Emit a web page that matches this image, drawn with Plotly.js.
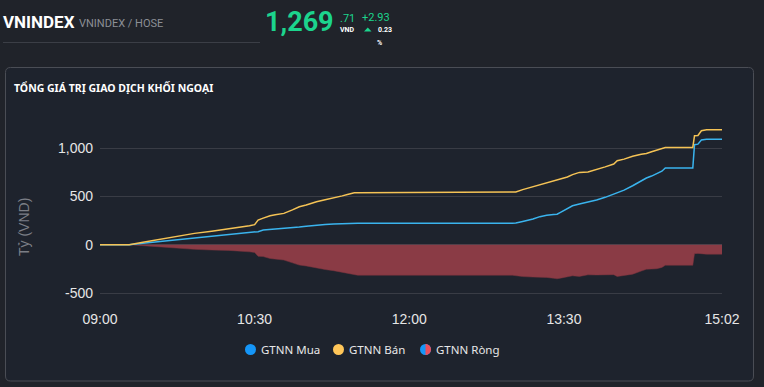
<!DOCTYPE html>
<html>
<head>
<meta charset="utf-8">
<script src="https://cdn.plot.ly/plotly-3.0.1.min.js"></script>
<style>
  html, body { margin: 0; padding: 0; background: #20232a; overflow: hidden; }
  #chart { width: 764px; height: 387px; }
</style>
</head>
<body>
<div id="chart"></div>
<script>
// ---- data ----
const times = ['09:00','09:17','09:25','09:36','09:45','09:55','10:05','10:15','10:27','10:30','10:32','10:35','10:39','10:42','10:47','10:52','10:56','11:00','11:06','11:11','11:16','11:21','11:24','11:28','11:30','13:00','13:02','13:06','13:12','13:16','13:20','13:24','13:26','13:28','13:32','13:35','13:39','13:44','13:49','13:54','13:59','14:01','14:05','14:10','14:15','14:18','14:21','14:24','14:27','14:29','14:45','14:46','14:48','14:50','14:53','15:02'];
const buyValues = [0,0,15,34,52,69,85,103,122,127,135,152,157,162,165,172,182,190,203,208,213,218,222,222,222,222,224,240,265,290,305,312,315,334,370,403,420,440,462,490,524,540,565,610,662,690,710,731,760,793,793,1034,1040,1083,1090,1090];
const sellValues = [0,0,25,59,88,117,140,162,196,207,255,275,300,310,324,360,393,410,445,465,482,505,520,538,538,538,545,570,600,625,644,660,668,680,700,725,748,752,775,805,834,869,885,915,935,944,962,980,995,1006,1006,1127,1130,1179,1188,1188];
const netValues = [0,0,-10,-25,-36,-48,-55,-59,-74,-80,-120,-123,-143,-148,-159,-188,-211,-220,-242,-257,-269,-287,-298,-316,-316,-316,-321,-330,-335,-335,-339,-348,-353,-346,-330,-322,-328,-312,-313,-315,-310,-329,-320,-305,-273,-254,-252,-249,-235,-213,-213,-93,-90,-96,-98,-98];
const tickTimes = ['09:00','10:30','12:00','13:30','15:02'];
const yTickVals = [-500, 0, 500, 1000];
const yTickText = ['-500', '0', '500', '1,000'];
const seriesNames = ['GTNN Mua', 'GTNN Bán', 'GTNN Ròng'];

const day = '2024-06-03 ';
const xs = times.map(t => day + t);

// ---- geometry helpers (pixel -> paper) ----
const L = 100, R = 722, T = 100, B = 302;
const px = p => (p - L) / (R - L);
const py = p => (B - p) / (B - T);

function roundRect(x0, y0, x1, y1, r) {
  return 'M' + px(x0 + r) + ',' + py(y0) +
    ' L' + px(x1 - r) + ',' + py(y0) +
    ' Q' + px(x1) + ',' + py(y0) + ' ' + px(x1) + ',' + py(y0 + r) +
    ' L' + px(x1) + ',' + py(y1 - r) +
    ' Q' + px(x1) + ',' + py(y1) + ' ' + px(x1 - r) + ',' + py(y1) +
    ' L' + px(x0 + r) + ',' + py(y1) +
    ' Q' + px(x0) + ',' + py(y1) + ' ' + px(x0) + ',' + py(y1 - r) +
    ' L' + px(x0) + ',' + py(y0 + r) +
    ' Q' + px(x0) + ',' + py(y0) + ' ' + px(x0 + r) + ',' + py(y0) + ' Z';
}

const traces = [
  {
    x: xs, y: netValues, type: 'scatter', mode: 'lines',
    fill: 'tozeroy', fillcolor: '#8a3b45',
    line: { color: '#7d343e', width: 0.5 },
    name: seriesNames[2], showlegend: false, hoverinfo: 'skip'
  },
  {
    x: xs, y: buyValues, type: 'scatter', mode: 'lines',
    line: { color: '#3ab4ee', width: 1.5 },
    name: seriesNames[0], showlegend: false, hoverinfo: 'skip'
  },
  {
    x: xs, y: sellValues, type: 'scatter', mode: 'lines',
    line: { color: '#f5c355', width: 1.5 },
    name: seriesNames[1], showlegend: false, hoverinfo: 'skip'
  }
];

const green = '#1cd48d';
const ann = (x, y, text, size, color, opts) => Object.assign({
  xref: 'paper', yref: 'paper', x: px(x), y: py(y), text: text,
  showarrow: false, xanchor: 'left', yanchor: 'middle',
  font: { family: 'Roboto, sans-serif', size: size, color: color }
}, opts || {});

const annotations = [
  ann(1, 22, '<b>VNINDEX</b>', 17, '#ffffff'),
  ann(77, 23, 'VNINDEX / HOSE', 11, '#8c8f96'),
  ann(263, 22, '<b>1,269</b>', 27, green),
  ann(338, 18, '.71', 11, green),
  ann(338, 30, '<b>VND</b>', 7, '#ffffff'),
  ann(360, 17, '+2.93', 11, green),
  ann(376, 30, '<b>0.23</b>', 7, '#ffffff'),
  ann(375, 43, '<b>%</b>', 7, '#ffffff'),
  ann(12, 88, '<b>TỔNG GIÁ TRỊ GIAO DỊCH KHỐI NGOẠI</b>', 11, '#ffffff', {font: {family: 'Noto Sans, sans-serif', size: 10.5, color: '#ffffff'}}),
  ann(24, 227, 'Tỷ (VND)', 14, '#7b7e86', {xanchor: 'center', textangle: -90, font: {family: 'Liberation Sans, Arial, sans-serif', size: 14, color: '#7b7e86'}}),
  ann(259, 349, seriesNames[0], 12, '#e8e8e8', {font: {family: 'Noto Sans, sans-serif', size: 11.5, color: '#e8e8e8'}}),
  ann(347, 349, seriesNames[1], 12, '#e8e8e8', {font: {family: 'Noto Sans, sans-serif', size: 11.5, color: '#e8e8e8'}}),
  ann(434, 349, seriesNames[2], 12, '#e8e8e8', {font: {family: 'Noto Sans, sans-serif', size: 11.5, color: '#e8e8e8'}})
];

function circle(cx, cy, r, color) {
  return { type: 'circle', xref: 'paper', yref: 'paper', xsizemode: 'pixel', ysizemode: 'pixel',
    xanchor: px(cx), yanchor: py(cy), x0: -r, x1: r, y0: -r, y1: r,
    fillcolor: color, line: { width: 0 }, layer: 'above' };
}
function rightHalf(cx, cy, r, color) {
  const k = 0.5523 * r;
  return { type: 'path', xref: 'paper', yref: 'paper', xsizemode: 'pixel', ysizemode: 'pixel',
    xanchor: px(cx), yanchor: py(cy),
    path: 'M0,' + r + ' C' + k + ',' + r + ' ' + r + ',' + k + ' ' + r + ',0 C' + r + ',' + (-k) + ' ' + k + ',' + (-r) + ' 0,' + (-r) + ' Z',
    fillcolor: color, line: { width: 0 }, layer: 'above' };
}

const shapes = [
  { type: 'path', xref: 'paper', yref: 'paper', path: roundRect(5.5, 67.5, 753.5, 381, 5),
    fillcolor: '#1e232d', line: { color: '#4a4d55', width: 1 }, layer: 'below' },
  { type: 'line', xref: 'paper', yref: 'paper', x0: px(3), x1: px(260), y0: py(42.5), y1: py(42.5),
    line: { color: '#3b3e46', width: 1 }, layer: 'below' },
  { type: 'path', xref: 'paper', yref: 'paper',
    path: 'M' + px(364) + ',' + py(31.5) + ' L' + px(371.5) + ',' + py(31.5) + ' L' + px(367.75) + ',' + py(27.5) + ' Z',
    fillcolor: green, line: { width: 0 } },
  circle(250.5, 349.5, 5.5, '#1596f8'),
  circle(338.5, 349.5, 5.5, '#ffc659'),
  circle(425.5, 349.5, 5.5, '#1596f8'),
  rightHalf(425.5, 349.5, 5.5, '#ec4f5b')
];

const layout = {
  width: 764, height: 387, autosize: false,
  margin: { l: L, r: 764 - R, t: T, b: 387 - B, pad: 0 },
  paper_bgcolor: '#20232a', plot_bgcolor: 'rgba(0,0,0,0)',
  showlegend: false,
  xaxis: {
    type: 'date',
    range: [day + '09:00', day + '15:02'],
    tickvals: tickTimes.map(t => day + t), ticktext: tickTimes,
    showgrid: false, zeroline: false, showline: false, ticks: '',
    ticklabelstandoff: 7,
    tickfont: { family: 'Liberation Sans, Arial, sans-serif', size: 14, color: '#e6e6e6' },
    fixedrange: true
  },
  yaxis: {
    range: [-593, 1497],
    tickvals: yTickVals, ticktext: yTickText,
    showgrid: true, gridcolor: '#393c45', gridwidth: 1,
    zeroline: true, zerolinecolor: '#3f424b', zerolinewidth: 1,
    showline: false, ticks: '',
    ticklabelstandoff: 6,
    tickfont: { family: 'Liberation Sans, Arial, sans-serif', size: 14, color: '#e6e6e6' },
    fixedrange: true
  },
  annotations: annotations,
  shapes: shapes,
  hovermode: false
};

Plotly.newPlot('chart', traces, layout, { displayModeBar: false, staticPlot: true });
</script>
</body>
</html>
